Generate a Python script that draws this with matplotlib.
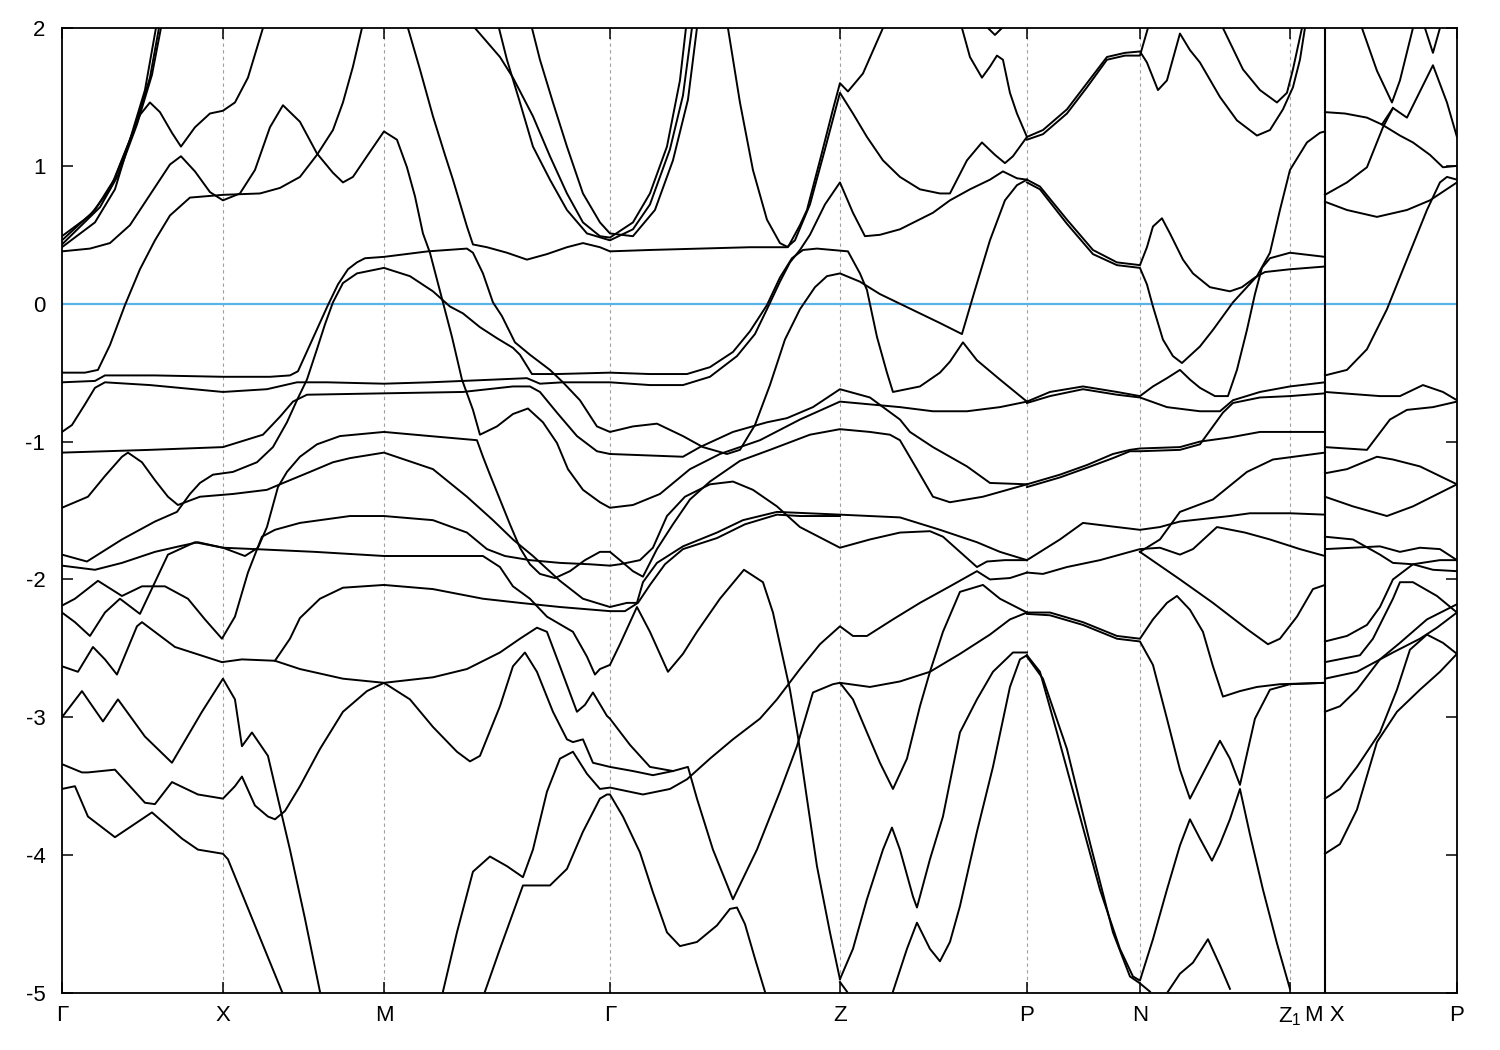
# Band structure along G-X-M-G-Z-P-N-Z1-M|X-P, energies in eV

import matplotlib
matplotlib.use("Agg")
import matplotlib.pyplot as plt

plt.rcParams['font.family'] = ['Liberation Sans', 'DejaVu Sans']
plt.rcParams['mathtext.default'] = 'regular'
plt.rcParams['axes.unicode_minus'] = False

# high symmetry points (path length)
kpts = [0, 1.61, 3.22, 5.48, 7.78, 9.65, 10.78, 12.28, 12.63, 13.95]
klabels = ['Γ', 'X', 'M', 'Γ', 'Z', 'P', 'N', 'Z$_1$', 'M X', 'P']
k_break = 12.63

# bands (k, E)
b01_k = [0, 0.28, 0.48, 0.68, 0.83, 0.94]
b01_e = [0.49, 0.64, 0.83, 1.19, 1.55, 2.0]
b02_k = [0, 0.33, 0.53, 0.73, 0.88, 0.97]
b02_e = [0.46, 0.68, 0.91, 1.28, 1.64, 2.0]
b03_k = [0, 0.38, 0.56, 0.75, 0.90, 0.99]
b03_e = [0.43, 0.70, 0.93, 1.30, 1.66, 2.0]
b04_k = [0, 0.33, 0.53, 0.68, 0.78, 0.88, 0.98, 1.10, 1.19, 1.33, 1.48, 1.61, 1.73, 1.86, 2.01]
b04_e = [0.41, 0.59, 0.83, 1.19, 1.37, 1.46, 1.39, 1.24, 1.14, 1.28, 1.38, 1.40, 1.46, 1.64, 2.0]
b05_k = [0, 0.28, 0.48, 0.68, 0.88, 1.08, 1.19, 1.33, 1.48, 1.61, 1.78, 1.93, 2.08, 2.21, 2.38,
         2.55, 2.71, 2.81, 2.91, 3.05, 3.22, 3.35, 3.45, 3.53, 3.61, 3.68, 3.81, 3.90, 4.00, 4.11,
         4.18, 4.35, 4.51, 4.66, 4.81, 4.95, 5.06, 5.21, 5.38, 5.48, 5.71, 5.98, 6.28, 6.58, 6.98,
         7.38, 7.78, 8.08, 8.38, 8.71, 9.05, 9.38, 9.65]
b05_e = [0.38, 0.40, 0.44, 0.57, 0.79, 1.01, 1.07, 0.96, 0.81, 0.75, 0.80, 0.97, 1.28, 1.44, 1.32,
         1.09, 0.95, 0.88, 0.92, 1.07, 1.25, 1.19, 0.99, 0.78, 0.51, 0.37, 0.01, -0.24, -0.55, -0.77,
         -0.95, -0.89, -0.80, -0.76, -0.86, -1.01, -1.20, -1.35, -1.44, -1.48, -1.46, -1.38, -1.20, -1.09, -0.99,
         -0.84, -0.71, -0.73, -0.75, -0.78, -0.78, -0.75, -0.71]
b06_k = [0, 0.23, 0.36, 0.48, 0.63, 0.78, 0.93, 1.08, 1.28, 1.61, 1.98, 2.18, 2.38, 2.55, 2.71, 2.81, 2.91, 3.00]
b06_e = [-0.50, -0.50, -0.48, -0.30, -0.01, 0.25, 0.46, 0.64, 0.77, 0.79, 0.80, 0.84, 0.92, 1.08, 1.26, 1.46, 1.72, 2.0]
b07_k = [3.46, 3.58, 3.71, 3.83, 3.91, 4.05, 4.11, 4.25, 4.45, 4.65, 4.85, 5.05, 5.21, 5.38, 5.48,
         5.88, 6.38, 6.88, 7.25, 7.33, 7.48, 7.63, 7.78, 7.91, 8.05, 8.21, 8.38, 8.58, 8.78, 8.88,
         9.05, 9.20, 9.33, 9.43, 9.51, 9.65]
b07_e = [2.0, 1.70, 1.36, 1.08, 0.90, 0.56, 0.43, 0.41, 0.37, 0.32, 0.36, 0.41, 0.44, 0.41, 0.38,
         0.39, 0.40, 0.41, 0.41, 0.46, 0.72, 1.12, 1.53, 1.38, 1.21, 1.04, 0.92, 0.83, 0.80, 0.80,
         1.04, 1.17, 1.08, 1.02, 1.07, 1.21]
b08_k = [4.13, 4.38, 4.51, 4.71, 4.88, 5.05, 5.21, 5.38, 5.48, 5.71, 5.88, 6.05, 6.18, 6.24]
b08_e = [2.0, 1.79, 1.64, 1.36, 1.07, 0.80, 0.59, 0.49, 0.48, 0.59, 0.80, 1.14, 1.62, 2.0]
b09_k = [4.37, 4.45, 4.58, 4.71, 4.88, 5.05, 5.25, 5.48, 5.71, 5.88, 6.08, 6.21, 6.30]
b09_e = [2.0, 1.77, 1.46, 1.14, 0.90, 0.68, 0.51, 0.46, 0.54, 0.72, 1.12, 1.51, 2.0]
b10_k = [4.70, 4.78, 4.91, 5.05, 5.21, 5.38, 5.48, 5.71, 5.93, 6.11, 6.26, 6.35]
b10_e = [2.0, 1.77, 1.46, 1.14, 0.80, 0.59, 0.51, 0.49, 0.68, 1.04, 1.48, 2.0]
b11_k = [6.66, 6.78, 6.91, 7.05, 7.18, 7.26, 7.38, 7.45, 7.58, 7.71, 7.78, 7.86, 8.01, 8.21]
b11_e = [2.0, 1.46, 0.97, 0.61, 0.44, 0.41, 0.57, 0.68, 1.04, 1.41, 1.60, 1.54, 1.67, 2.0]
b12_k = [0, 0.33, 0.43, 0.93, 1.61, 2.08, 2.28, 2.36, 2.46, 2.56, 2.66, 2.76, 2.86, 2.95, 3.03,
         3.22, 3.66, 4.05, 4.11, 4.21, 4.31, 4.40, 4.53, 4.68, 4.88, 5.01, 5.18, 5.35, 5.48, 5.71,
         5.95, 6.21, 6.41, 6.65, 6.78, 6.93, 7.08, 7.23, 7.38, 7.53, 7.65, 7.78, 7.98, 8.18, 8.38,
         8.58, 8.78, 9.00, 9.13, 9.28, 9.43, 9.55, 9.65]
b12_e = [-0.57, -0.56, -0.52, -0.52, -0.53, -0.53, -0.52, -0.49, -0.33, -0.17, -0.01, 0.14, 0.25, 0.30, 0.33,
         0.34, 0.38, 0.40, 0.37, 0.22, 0.01, -0.09, -0.28, -0.37, -0.48, -0.57, -0.70, -0.89, -0.93, -0.89,
         -0.87, -0.96, -1.04, -1.09, -1.06, -0.88, -0.59, -0.26, -0.04, 0.12, 0.20, 0.22, 0.16, 0.07, 0.0,
         -0.07, -0.14, -0.22, 0.10, 0.46, 0.75, 0.86, 0.90]
b13_k = [0, 0.10, 0.23, 0.33, 0.43, 0.88, 1.61, 2.05, 2.35, 2.65, 3.22, 3.68, 4.01, 4.65, 4.78,
         5.01, 5.48, 5.88, 6.21, 6.48, 6.75, 6.93, 7.05, 7.18, 7.28, 7.38, 7.48, 7.63, 7.78, 7.91,
         8.03, 8.18, 8.38, 8.71, 8.88, 9.08, 9.28, 9.41, 9.55, 9.65]
b13_e = [-0.93, -0.88, -0.73, -0.61, -0.57, -0.59, -0.64, -0.62, -0.57, -0.57, -0.58, -0.57, -0.56, -0.54, -0.58,
         -0.57, -0.57, -0.59, -0.59, -0.53, -0.38, -0.22, -0.04, 0.16, 0.30, 0.39, 0.50, 0.72, 0.88, 0.66,
         0.49, 0.50, 0.54, 0.66, 0.75, 0.83, 0.90, 0.96, 0.91, 0.90]
b14_k = [0, 0.88, 1.61, 2.01, 2.18, 2.31, 2.45, 3.22, 4.01, 4.51, 4.68, 4.78, 4.95, 5.15, 5.35,
         5.48, 6.21, 6.38, 6.71, 7.05, 7.25, 7.51, 7.78, 8.08, 8.38, 8.48, 8.71, 9.05, 9.28, 9.65]
b14_e = [-1.08, -1.06, -1.04, -0.95, -0.82, -0.71, -0.66, -0.65, -0.64, -0.60, -0.60, -0.64, -0.79, -0.96, -1.07,
         -1.09, -1.11, -1.04, -0.93, -0.86, -0.83, -0.75, -0.62, -0.68, -0.84, -0.93, -1.04, -1.18, -1.30, -1.31]
b15_k = [0, 0.25, 0.60, 0.93, 1.15, 1.28, 1.38, 1.51, 1.71, 1.95, 2.11, 2.25, 2.35, 2.45, 2.55,
         2.63, 2.71, 2.81, 2.95, 3.22, 3.48, 3.71, 3.88, 4.01, 4.18, 4.35, 4.51, 4.58, 4.70, 4.95,
         5.48, 5.88, 6.25, 6.48, 6.71, 6.88, 7.05, 7.18, 7.30, 7.41, 7.55, 7.86, 7.98, 8.05, 8.15,
         8.25, 8.31, 8.58, 8.78, 8.88, 9.01, 9.15, 9.38, 9.65]
b15_e = [-1.82, -1.87, -1.71, -1.58, -1.51, -1.38, -1.30, -1.24, -1.22, -1.15, -1.04, -0.86, -0.70, -0.55, -0.33,
         -0.15, 0.01, 0.15, 0.22, 0.26, 0.20, 0.09, -0.02, -0.07, -0.17, -0.25, -0.32, -0.37, -0.51, -0.51,
         -0.50, -0.51, -0.51, -0.46, -0.35, -0.20, -0.01, 0.19, 0.33, 0.39, 0.40, 0.38, 0.22, 0.10, -0.24,
         -0.50, -0.64, -0.60, -0.50, -0.42, -0.28, -0.41, -0.55, -0.71]
b16_k = [0, 0.26, 0.43, 0.60, 0.66, 0.80, 0.93, 1.06, 1.16, 1.38, 1.71, 2.05, 2.18, 2.48, 2.71,
         2.88, 3.22, 3.71, 4.05, 4.31, 4.51, 4.71, 4.98, 5.21, 5.48, 5.65, 5.75, 5.81, 5.95, 6.21,
         6.55, 6.81, 7.15, 7.78, 8.38, 8.78, 9.15, 9.38, 9.65]
b16_e = [-1.48, -1.40, -1.25, -1.11, -1.08, -1.15, -1.28, -1.40, -1.46, -1.40, -1.38, -1.35, -1.31, -1.22, -1.15,
         -1.12, -1.08, -1.20, -1.40, -1.57, -1.71, -1.83, -2.01, -2.14, -2.20, -2.17, -2.17, -2.02, -1.88, -1.76,
         -1.66, -1.57, -1.51, -1.53, -1.55, -1.64, -1.73, -1.80, -1.86]
b17_k = [0, 0.13, 0.28, 0.43, 0.58, 0.78, 0.93, 1.06, 1.33, 1.61, 1.83, 1.96, 2.05, 2.16, 2.25,
         2.38, 2.55, 2.78, 3.22, 3.68, 4.15, 4.21, 4.28, 4.38, 4.48, 4.58, 4.68, 4.78, 4.93, 5.08,
         5.23, 5.38, 5.48, 5.58, 5.71, 5.81, 5.95, 6.11, 6.28, 6.48, 6.78, 7.08, 7.48, 7.78, 8.08,
         8.28, 8.38, 8.55, 8.71, 8.88, 9.21, 9.65]
b17_e = [-2.24, -2.31, -2.41, -2.24, -2.14, -2.25, -2.02, -1.82, -1.73, -1.77, -1.83, -1.77, -1.62, -1.33, -1.22,
         -1.11, -1.02, -0.96, -0.93, -0.96, -0.99, -1.11, -1.24, -1.42, -1.60, -1.77, -1.89, -1.96, -1.99, -1.94,
         -1.86, -1.80, -1.80, -1.86, -1.94, -1.98, -1.78, -1.60, -1.42, -1.29, -1.14, -1.06, -0.95, -0.91, -0.93,
         -0.95, -0.99, -1.20, -1.40, -1.44, -1.40, -1.31]
b18_k = [0, 0.13, 0.36, 0.60, 0.80, 1.03, 1.26, 1.43, 1.60, 1.73, 1.86, 2.00, 2.13, 2.38, 2.88,
         3.22, 3.71, 4.05, 4.25, 4.43, 4.68, 4.98, 5.28, 5.48, 5.58, 5.78, 5.91, 6.05, 6.23, 6.48,
         6.71, 6.91, 7.15, 7.38, 7.78, 8.08, 8.38, 8.68, 8.81, 8.98, 9.15, 9.25, 9.43, 9.65]
b18_e = [-2.19, -2.14, -2.01, -2.12, -2.05, -2.05, -2.14, -2.29, -2.43, -2.27, -1.95, -1.69, -1.64, -1.59, -1.54,
         -1.54, -1.57, -1.66, -1.78, -1.83, -1.86, -1.88, -1.89, -1.90, -1.89, -1.86, -1.77, -1.54, -1.40, -1.31,
         -1.29, -1.35, -1.47, -1.62, -1.77, -1.71, -1.66, -1.65, -1.69, -1.80, -1.91, -1.87, -1.86, -1.86]
b19_k = [0, 0.33, 0.60, 0.93, 1.17, 1.36, 1.61, 1.93, 2.53, 3.22, 4.21, 4.38, 4.51, 4.68, 4.85,
         5.11, 5.25, 5.33, 5.38, 5.48, 5.58, 5.75, 5.88, 6.06, 6.21, 6.35, 6.58, 6.82, 7.01, 7.11,
         7.28, 7.36, 7.45, 7.55, 7.68, 7.78]
b19_e = [-1.90, -1.93, -1.88, -1.80, -1.76, -1.73, -1.77, -1.78, -1.80, -1.83, -1.83, -1.91, -2.05, -2.14, -2.27,
         -2.38, -2.56, -2.69, -2.65, -2.62, -2.47, -2.20, -2.38, -2.67, -2.54, -2.38, -2.14, -1.93, -2.02, -2.24,
         -2.80, -3.14, -3.59, -4.08, -4.56, -4.90]
b20_k = [2.13, 2.28, 2.38, 2.58, 2.81, 3.22, 3.71, 4.21, 4.58, 4.98, 5.48, 5.63, 5.76, 5.88, 6.03,
         6.21, 6.55, 6.83, 7.15, 7.38, 7.78]
b20_e = [-2.59, -2.43, -2.28, -2.14, -2.06, -2.04, -2.07, -2.14, -2.17, -2.20, -2.23, -2.23, -2.17, -2.04, -1.89,
         -1.78, -1.70, -1.60, -1.53, -1.54, -1.54]
b21_k = [0, 0.16, 0.31, 0.43, 0.55, 0.75, 0.80, 1.13, 1.60, 1.80, 2.13, 2.38, 2.81, 3.22, 3.71,
         4.05, 4.38, 4.58, 4.75, 4.85, 4.98, 5.15, 5.23, 5.31, 5.45, 5.48, 5.68, 5.88, 6.11]
b21_e = [-2.63, -2.67, -2.49, -2.58, -2.69, -2.34, -2.31, -2.49, -2.60, -2.58, -2.59, -2.65, -2.72, -2.75, -2.71,
         -2.65, -2.53, -2.43, -2.35, -2.38, -2.63, -2.96, -2.91, -2.82, -2.99, -3.01, -3.20, -3.36, -3.39]
b22_k = [0, 0.20, 0.26, 0.53, 0.83, 0.93, 1.10, 1.36, 1.61, 1.73, 1.80, 1.93, 2.06, 2.13, 2.23,
         2.38, 2.58, 2.81, 3.05, 3.22, 3.48, 3.71, 3.95, 4.08, 4.18, 4.38, 4.51, 4.63, 4.75, 4.91,
         5.05, 5.11, 5.21, 5.31, 5.48, 5.71, 5.91, 6.11, 6.26, 6.35, 6.51, 6.71, 6.95, 7.18, 7.35,
         7.51, 7.71, 7.78, 7.91, 8.05, 8.18, 8.31, 8.45, 8.58, 8.68, 8.81, 8.98, 9.21, 9.38, 9.65]
b22_e = [-3.34, -3.40, -3.40, -3.38, -3.62, -3.63, -3.47, -3.56, -3.59, -3.50, -3.43, -3.64, -3.72, -3.74, -3.68,
         -3.50, -3.23, -2.96, -2.81, -2.75, -2.87, -3.07, -3.25, -3.32, -3.28, -2.92, -2.63, -2.53, -2.67, -2.96,
         -3.16, -3.18, -3.16, -3.33, -3.36, -3.39, -3.42, -3.39, -3.36, -3.59, -3.96, -4.32, -3.96, -3.54, -3.21,
         -2.82, -2.76, -2.75, -2.87, -3.11, -3.33, -3.52, -3.30, -2.92, -2.67, -2.38, -2.09, -2.04, -2.14, -2.24]
b23_k = [0, 0.20, 0.41, 0.56, 0.83, 1.10, 1.40, 1.61, 1.73, 1.80, 1.90, 2.06, 2.16, 2.28, 2.43, 2.58]
b23_e = [-3.00, -2.81, -3.03, -2.87, -3.14, -3.33, -2.96, -2.72, -2.87, -3.21, -3.11, -3.28, -3.59, -3.96, -4.46, -4.99]
b24_k = [0, 0.13, 0.26, 0.53, 0.90, 1.20, 1.36, 1.61, 1.66, 1.93, 2.20]
b24_e = [-3.52, -3.50, -3.72, -3.87, -3.69, -3.88, -3.96, -3.99, -4.03, -4.51, -4.99]
b25_k = [3.81, 3.95, 4.11, 4.28, 4.45, 4.61, 4.71, 4.85, 4.98, 5.11, 5.25, 5.38, 5.48, 5.81, 6.08,
         6.25, 6.48, 6.71, 6.98, 7.15, 7.38, 7.58, 7.78, 7.91, 8.05, 8.31, 8.58, 8.88, 9.15, 9.28,
         9.48, 9.65]
b25_e = [-4.99, -4.56, -4.12, -4.01, -4.08, -4.16, -3.96, -3.54, -3.30, -3.25, -3.41, -3.52, -3.51, -3.56, -3.52,
         -3.45, -3.30, -3.16, -3.01, -2.87, -2.65, -2.47, -2.34, -2.41, -2.41, -2.29, -2.17, -2.05, -1.94, -2.00,
         -1.99, -1.95]
b26_k = [4.23, 4.38, 4.61, 4.88, 5.05, 5.21, 5.38, 5.45, 5.48, 5.61, 5.78, 5.91, 6.05, 6.18, 6.35,
         6.55, 6.68, 6.75, 6.83, 6.93, 7.03]
b26_e = [-4.99, -4.68, -4.22, -4.22, -4.10, -3.83, -3.59, -3.56, -3.56, -3.72, -3.98, -4.27, -4.56, -4.66, -4.63,
         -4.51, -4.39, -4.38, -4.50, -4.75, -4.99]
b27_k = [7.78, 8.08, 8.38, 8.68, 8.98, 9.28, 9.48, 9.65]
b27_e = [-2.75, -2.78, -2.74, -2.67, -2.54, -2.40, -2.29, -2.24]
b28_k = [7.78, 7.91, 8.05, 8.21, 8.30, 8.38, 8.51, 8.55, 8.68, 8.81, 8.98, 9.15, 9.31, 9.51, 9.65]
b28_e = [-4.90, -4.68, -4.32, -3.96, -3.80, -3.96, -4.30, -4.38, -4.03, -3.72, -3.11, -2.87, -2.67, -2.53, -2.53]
b29_k = [8.31, 8.45, 8.55, 8.68, 8.78, 8.88, 8.98, 9.15, 9.31, 9.48, 9.58, 9.65]
b29_e = [-4.99, -4.68, -4.49, -4.68, -4.77, -4.63, -4.37, -3.83, -3.36, -2.78, -2.58, -2.55]
b30_k = [7.78, 7.85]
b30_e = [-4.92, -4.99]
b31_k = [9.00, 9.08, 9.20, 9.28, 9.35, 9.41, 9.48, 9.55, 9.65, 9.81, 10.05, 10.25, 10.45, 10.63, 10.78,
         10.85, 10.96, 11.05, 11.18, 11.28, 11.38, 11.58, 11.75, 11.95, 12.08, 12.21, 12.31, 12.38, 12.43]
b31_e = [2.0, 1.79, 1.64, 1.72, 1.80, 1.77, 1.53, 1.38, 1.21, 1.26, 1.41, 1.60, 1.79, 1.82, 1.83,
         1.75, 1.55, 1.62, 1.96, 1.84, 1.75, 1.50, 1.33, 1.22, 1.26, 1.41, 1.57, 1.77, 2.0]
b32_k = [9.65, 9.81, 10.05, 10.25, 10.45, 10.63, 10.78, 10.86]
b32_e = [1.19, 1.23, 1.38, 1.57, 1.77, 1.80, 1.80, 2.0]
b33_k = [9.26, 9.33, 9.40]
b33_e = [2.0, 1.95, 2.0]
b34_k = [9.65, 9.78, 10.05, 10.31, 10.55, 10.78, 10.85, 10.91, 11.00, 11.08, 11.21, 11.31, 11.48, 11.68, 11.80,
         11.93, 12.03, 12.28, 12.63]
b34_e = [0.90, 0.85, 0.61, 0.39, 0.30, 0.28, 0.41, 0.56, 0.62, 0.51, 0.32, 0.22, 0.12, 0.09, 0.12,
         0.19, 0.23, 0.25, 0.27]
b35_k = [9.65, 9.78, 10.05, 10.31, 10.55, 10.78, 10.85, 10.91, 11.01, 11.11, 11.20, 11.38, 11.51, 11.71, 11.95,
         12.08, 12.18, 12.28, 12.45, 12.58, 12.63]
b35_e = [0.88, 0.83, 0.58, 0.36, 0.28, 0.26, 0.14, -0.02, -0.26, -0.38, -0.43, -0.31, -0.19, 0.01, 0.20,
         0.37, 0.68, 0.97, 1.17, 1.24, 1.25]
b36_k = [9.65, 9.88, 10.21, 10.55, 10.78, 10.91, 11.05, 11.18, 11.28, 11.38, 11.53, 11.66, 11.75, 11.85, 11.93,
         12.00, 12.08, 12.28, 12.63]
b36_e = [-0.71, -0.64, -0.60, -0.64, -0.67, -0.60, -0.54, -0.48, -0.55, -0.61, -0.67, -0.67, -0.48, -0.19, 0.07,
         0.26, 0.33, 0.37, 0.34]
b37_k = [9.65, 9.88, 10.21, 10.55, 10.78, 11.05, 11.38, 11.58, 11.71, 11.98, 12.28, 12.63]
b37_e = [-0.72, -0.67, -0.62, -0.66, -0.68, -0.75, -0.78, -0.78, -0.70, -0.64, -0.60, -0.57]
b38_k = [9.65, 9.98, 10.25, 10.51, 10.68, 10.78, 11.18, 11.38, 11.68, 11.98, 12.28, 12.63]
b38_e = [-1.31, -1.24, -1.17, -1.09, -1.06, -1.05, -1.04, -1.00, -0.97, -0.93, -0.93, -0.93]
b39_k = [9.65, 9.98, 10.25, 10.51, 10.68, 10.78, 11.18, 11.38, 11.61, 11.71, 11.98, 12.28, 12.63]
b39_e = [-1.33, -1.26, -1.19, -1.12, -1.07, -1.07, -1.06, -1.02, -0.79, -0.72, -0.68, -0.67, -0.65]
b40_k = [9.65, 9.98, 10.21, 10.55, 10.78, 10.98, 11.18, 11.68, 11.88, 12.28, 12.63]
b40_e = [-1.86, -1.71, -1.59, -1.62, -1.64, -1.62, -1.58, -1.54, -1.52, -1.52, -1.53]
b41_k = [9.65, 9.81, 10.05, 10.38, 10.78, 10.98, 11.18, 11.31, 11.55, 11.83, 12.08, 12.38, 12.63]
b41_e = [-1.95, -1.96, -1.91, -1.86, -1.78, -1.77, -1.82, -1.78, -1.62, -1.66, -1.71, -1.78, -1.83]
b42_k = [10.78, 10.98, 11.18, 11.51, 11.85, 12.11, 12.63]
b42_e = [-1.80, -1.71, -1.51, -1.42, -1.22, -1.13, -1.08]
b43_k = [10.78, 10.98, 11.18, 11.51, 11.85, 12.06, 12.18, 12.35, 12.51, 12.63]
b43_e = [-1.80, -1.90, -2.00, -2.17, -2.36, -2.47, -2.43, -2.27, -2.07, -2.04]
b44_k = [9.65, 9.88, 10.21, 10.55, 10.78, 10.91, 11.05, 11.15, 11.28, 11.41, 11.51, 11.61, 11.78, 11.95, 12.18, 12.63]
b44_e = [-2.24, -2.24, -2.31, -2.41, -2.43, -2.29, -2.17, -2.12, -2.22, -2.38, -2.63, -2.85, -2.81, -2.78, -2.76, -2.75]
b45_k = [9.65, 9.88, 10.21, 10.55, 10.78, 10.91, 11.05, 11.18, 11.28, 11.43, 11.58, 11.68, 11.78, 11.93, 12.08,
         12.28, 12.63]
b45_e = [-2.25, -2.26, -2.33, -2.43, -2.45, -2.62, -3.01, -3.38, -3.59, -3.38, -3.17, -3.30, -3.49, -3.01, -2.80,
         -2.76, -2.75]
b46_k = [9.65, 9.78, 9.95, 10.15, 10.38, 10.58, 10.71, 10.78, 10.91, 11.05, 11.18, 11.28, 11.38, 11.50, 11.58,
         11.68, 11.78, 11.88, 12.01, 12.15, 12.28]
b46_e = [-2.55, -2.67, -3.11, -3.64, -4.25, -4.68, -4.88, -4.91, -4.61, -4.25, -3.93, -3.74, -3.88, -4.04, -3.92,
         -3.74, -3.52, -3.85, -4.25, -4.64, -4.97]
b47_k = [9.65, 9.81, 10.05, 10.28, 10.51, 10.68, 10.78, 10.88]
b47_e = [-2.56, -2.72, -3.23, -3.91, -4.56, -4.88, -4.93, -4.99]
b48_k = [11.06, 11.18, 11.31, 11.46, 11.58, 11.68]
b48_e = [-4.99, -4.86, -4.78, -4.61, -4.80, -4.97]
b49_k = [11.61, 11.81, 11.98, 12.15, 12.25, 12.31, 12.40]
b49_e = [2.0, 1.70, 1.55, 1.46, 1.53, 1.70, 2.0]

# X -> P panel
r01_k = [12.63, 12.83, 13.05, 13.20, 13.31, 13.45, 13.58, 13.71, 13.85, 13.95]
r01_e = [1.39, 1.38, 1.35, 1.30, 1.42, 1.35, 1.54, 1.73, 1.46, 1.21]
r02_k = [13.00, 13.15, 13.30, 13.38, 13.51]
r02_e = [2.0, 1.69, 1.46, 1.62, 2.0]
r03_k = [13.63, 13.71, 13.78]
r03_e = [2.0, 1.82, 2.0]
r04_k = [13.20, 13.38, 13.51, 13.68, 13.81, 13.95]
r04_e = [1.30, 1.22, 1.17, 1.08, 0.99, 1.00]
r05_k = [12.63, 12.85, 13.05, 13.21, 13.31]
r05_e = [0.79, 0.88, 0.99, 1.28, 1.42]
r06_k = [12.63, 12.85, 13.15, 13.45, 13.68, 13.95]
r06_e = [0.74, 0.68, 0.63, 0.68, 0.75, 0.88]
r07_k = [12.63, 12.85, 13.05, 13.25, 13.45, 13.65, 13.78, 13.85, 13.95]
r07_e = [-0.52, -0.48, -0.33, -0.04, 0.32, 0.68, 0.88, 0.92, 0.90]
r08_k = [12.63, 13.18, 13.38, 13.61, 13.81, 13.95]
r08_e = [-0.64, -0.67, -0.67, -0.59, -0.64, -0.70]
r09_k = [12.63, 13.05, 13.28, 13.45, 13.71, 13.95]
r09_e = [-1.04, -1.06, -0.84, -0.77, -0.75, -0.71]
r10_k = [12.63, 12.85, 13.15, 13.31, 13.58, 13.95]
r10_e = [-1.23, -1.20, -1.11, -1.13, -1.18, -1.31]
r11_k = [12.63, 12.91, 13.25, 13.51, 13.95]
r11_e = [-1.40, -1.47, -1.54, -1.47, -1.31]
r12_k = [12.63, 12.91, 13.18, 13.31, 13.51, 13.71, 13.95]
r12_e = [-1.69, -1.71, -1.82, -1.88, -1.89, -1.93, -1.94]
r13_k = [12.63, 13.18, 13.38, 13.58, 13.78, 13.95]
r13_e = [-1.78, -1.76, -1.80, -1.77, -1.78, -1.86]
r14_k = [12.63, 12.85, 13.05, 13.18, 13.31, 13.51, 13.78, 13.95]
r14_e = [-2.45, -2.41, -2.33, -2.20, -2.00, -1.89, -1.86, -1.86]
r15_k = [12.63, 12.98, 13.11, 13.31, 13.38, 13.51, 13.75, 13.95]
r15_e = [-2.60, -2.55, -2.43, -2.14, -2.02, -2.02, -2.12, -2.24]
r16_k = [12.63, 12.95, 13.31, 13.58, 13.75, 13.95]
r16_e = [-2.72, -2.67, -2.53, -2.43, -2.35, -2.24]
r17_k = [12.63, 12.78, 12.95, 13.18, 13.38, 13.65, 13.95]
r17_e = [-2.96, -2.92, -2.80, -2.58, -2.46, -2.29, -2.18]
r18_k = [12.63, 12.78, 12.95, 13.18, 13.35, 13.48, 13.65, 13.81, 13.95]
r18_e = [-3.59, -3.52, -3.36, -3.11, -2.80, -2.51, -2.40, -2.46, -2.54]
r19_k = [12.63, 12.78, 12.95, 13.15, 13.35, 13.58, 13.78, 13.95]
r19_e = [-3.99, -3.92, -3.67, -3.18, -2.96, -2.80, -2.67, -2.54]

bands = [
    (b01_k, b01_e), (b02_k, b02_e), (b03_k, b03_e), (b04_k, b04_e), (b05_k, b05_e),
    (b06_k, b06_e), (b07_k, b07_e), (b08_k, b08_e), (b09_k, b09_e), (b10_k, b10_e),
    (b11_k, b11_e), (b12_k, b12_e), (b13_k, b13_e), (b14_k, b14_e), (b15_k, b15_e),
    (b16_k, b16_e), (b17_k, b17_e), (b18_k, b18_e), (b19_k, b19_e), (b20_k, b20_e),
    (b21_k, b21_e), (b22_k, b22_e), (b23_k, b23_e), (b24_k, b24_e), (b25_k, b25_e),
    (b26_k, b26_e), (b27_k, b27_e), (b28_k, b28_e), (b29_k, b29_e), (b30_k, b30_e),
    (b31_k, b31_e), (b32_k, b32_e), (b33_k, b33_e), (b34_k, b34_e), (b35_k, b35_e),
    (b36_k, b36_e), (b37_k, b37_e), (b38_k, b38_e), (b39_k, b39_e), (b40_k, b40_e),
    (b41_k, b41_e), (b42_k, b42_e), (b43_k, b43_e), (b44_k, b44_e), (b45_k, b45_e),
    (b46_k, b46_e), (b47_k, b47_e), (b48_k, b48_e), (b49_k, b49_e),
    (r01_k, r01_e), (r02_k, r02_e), (r03_k, r03_e), (r04_k, r04_e), (r05_k, r05_e),
    (r06_k, r06_e), (r07_k, r07_e), (r08_k, r08_e), (r09_k, r09_e), (r10_k, r10_e),
    (r11_k, r11_e), (r12_k, r12_e), (r13_k, r13_e), (r14_k, r14_e), (r15_k, r15_e),
    (r16_k, r16_e), (r17_k, r17_e), (r18_k, r18_e), (r19_k, r19_e),
]

fig = plt.figure(figsize=(15, 10.5), dpi=100)
ax = fig.add_axes([0.0413, 0.0543, 0.93, 0.919])

# dotted lines at the high symmetry points
for kp in kpts[1:-1]:
    ax.axvline(kp, color='#a0a0a0', lw=0.8, ls=(0, (3, 3)), zorder=1)

# fermi level
ax.axhline(0, color='#56b4e9', lw=1.6, zorder=2)

for k, e in bands:
    ax.plot(k, e, color='black', lw=1.4, solid_joinstyle='round', zorder=3)

# path break M|X
ax.axvline(k_break, color='black', lw=1.5, zorder=4)

ax.set_xlim(kpts[0], kpts[-1])
ax.set_ylim(-5, 2)
ax.set_xticks(kpts)
ax.set_xticklabels(klabels)
ax.set_yticks(range(-5, 3))
ax.tick_params(axis='both', direction='in', length=8, width=1.1,
               top=True, right=True, labelsize=16)
ax.tick_params(axis='y', pad=12)
ax.tick_params(axis='x', pad=9)
for sp in ax.spines.values():
    sp.set_linewidth(1.3)

fig.savefig('out.png', dpi=100)
